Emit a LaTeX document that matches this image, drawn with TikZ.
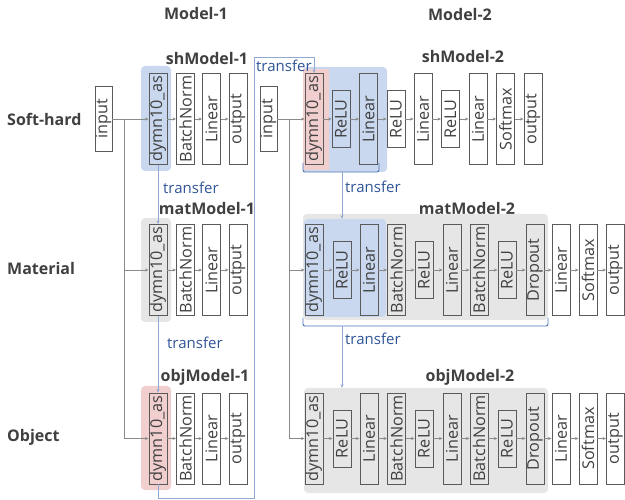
\documentclass[tikz,border=0pt]{standalone}
\usepackage{fontspec}
\setmainfont{Open Sans}
\usetikzlibrary{arrows.meta}
\definecolor{txtgray}{HTML}{404040}
\definecolor{boxgray}{HTML}{5A5A5A}
\definecolor{linegray}{HTML}{8A8A8A}
\definecolor{trblue}{HTML}{2F5597}
\definecolor{trline}{HTML}{4A72B8}
\definecolor{trthin}{HTML}{8FA9D4}
\definecolor{hlblue}{HTML}{C9D8EE}
\definecolor{hlpink}{HTML}{F2CFCF}
\definecolor{hlgray}{HTML}{E6E6E6}
\newcommand{\vlabel}[1]{\rotatebox{90}{#1}}

\begin{document}
\begin{tikzpicture}[x=1pt, y=-1pt, >={Stealth[length=3.5pt,width=3pt]},
    layer/.style={draw=boxgray, line width=0.9pt, inner sep=0pt, minimum width=18pt,
      minimum height=91pt, text=txtgray, font=\fontsize{16.2}{18}\selectfont},
    short/.style={layer, minimum height=57pt},
    inbox/.style={layer, minimum width=17pt, minimum height=65pt},
    hl/.style={rounded corners=4pt, inner sep=0pt},
    title/.style={text=txtgray, font=\bfseries\fontsize{16}{18}\selectfont},
    flow/.style={->, draw=linegray, line width=0.6pt},
    tr/.style={draw=trthin, line width=0.7pt},
    trtext/.style={text=trblue, anchor=west, inner sep=0pt, font=\fontsize{15}{17}\selectfont}]
    \useasboundingbox (0,0) rectangle (625,500);

    % Títulos
    \node[title] (t1) at (196,14) {Model-1};
    \node[title] (t2) at (460,15) {Model-2};
    \node[title] (tsh1) at (207,59) {shModel-1};
    \node[title] (tsh2) at (463,57) {shModel-2};
    \node[title] (tmat1) at (207,209) {matModel-1};
    \node[title] (tmat2) at (467,209) {matModel-2};
    \node[title] (tobj1) at (205,377) {objModel-1};
    \node[title] (tobj2) at (470,377) {objModel-2};
    \node[title, anchor=west, inner sep=0pt] (rsh) at (7,119) {Soft-hard};
    \node[title, anchor=west, inner sep=0pt] (rmat) at (7,269) {Material};
    \node[title, anchor=west, inner sep=0pt] (robj) at (7,437) {Object};

    % Zonas resaltadas
    \node[hl, fill=hlblue, minimum width=30pt, minimum height=105pt] (hsh1) at (156,118.5) {};
    \node[hl, fill=hlgray, minimum width=30pt, minimum height=104pt] (hmat1) at (156,270) {};
    \node[hl, fill=hlpink, minimum width=30pt, minimum height=104pt] (hobj1) at (156,438) {};
    \node[hl, fill=hlblue, minimum width=84pt, minimum height=105pt] (hsh2) at (345,119.5) {};
    \node[fill=hlpink, inner sep=0pt, minimum width=26pt, minimum height=101pt] (hsh2p) at (316,119.5) {};
    \node[hl, fill=hlgray, minimum width=245pt, minimum height=106pt] (hmat2) at (425.5,267) {};
    \node[hl, fill=hlblue, minimum width=82pt, minimum height=98pt] (hmat2b) at (345,268) {};
    \node[hl, fill=hlgray, minimum width=244pt, minimum height=105pt] (hobj2) at (426,440.5) {};

    % Capas Model-1
    \node[inbox] (in1) at (103.5,119) {\vlabel{input}};
    \node[layer] (sh1a) at (158,119) {\vlabel{dymn10\_as}};
    \node[layer] (sh1b) at (185.5,119) {\vlabel{BatchNorm}};
    \node[layer] (sh1c) at (211.5,119) {\vlabel{Linear}};
    \node[layer] (sh1d) at (238,119) {\vlabel{output}};

    \node[layer] (mat1a) at (158,270) {\vlabel{dymn10\_as}};
    \node[layer] (mat1b) at (185.5,270) {\vlabel{BatchNorm}};
    \node[layer] (mat1c) at (211.5,270) {\vlabel{Linear}};
    \node[layer] (mat1d) at (238,270) {\vlabel{output}};

    \node[layer] (obj1a) at (158,438.5) {\vlabel{dymn10\_as}};
    \node[layer] (obj1b) at (185.5,438.5) {\vlabel{BatchNorm}};
    \node[layer] (obj1c) at (211.5,438.5) {\vlabel{Linear}};
    \node[layer] (obj1d) at (238,438.5) {\vlabel{output}};

    % Capas Model-2
    \node[inbox] (in2) at (268.5,119) {\vlabel{input}};
    \node[layer] (sh2a) at (314,119) {\vlabel{dymn10\_as}};
    \node[short] (sh2b) at (341,119) {\vlabel{ReLU}};
    \node[layer] (sh2c) at (368.5,119) {\vlabel{Linear}};
    \node[short] (sh2d) at (396,119) {\vlabel{ReLU}};
    \node[layer] (sh2e) at (423,119) {\vlabel{Linear}};
    \node[short] (sh2f) at (450.5,119) {\vlabel{ReLU}};
    \node[layer] (sh2g) at (478,119) {\vlabel{Linear}};
    \node[layer] (sh2h) at (505.5,119) {\vlabel{Softmax}};
    \node[layer] (sh2i) at (533,119) {\vlabel{output}};

    \node[layer] (mat2a) at (314,270) {\vlabel{dymn10\_as}};
    \node[short] (mat2b) at (342,270) {\vlabel{ReLU}};
    \node[layer] (mat2c) at (369,270) {\vlabel{Linear}};
    \node[layer] (mat2d) at (396.5,270) {\vlabel{BatchNorm}};
    \node[short] (mat2e) at (424,270) {\vlabel{ReLU}};
    \node[layer] (mat2f) at (452,270) {\vlabel{Linear}};
    \node[layer] (mat2g) at (479,270) {\vlabel{BatchNorm}};
    \node[short] (mat2h) at (507,270) {\vlabel{ReLU}};
    \node[layer] (mat2i) at (535,270) {\vlabel{Dropout}};
    \node[layer] (mat2j) at (561,270) {\vlabel{Linear}};
    \node[layer] (mat2k) at (588,270) {\vlabel{Softmax}};
    \node[layer] (mat2l) at (615.5,270) {\vlabel{output}};

    \node[layer] (obj2a) at (314,438.5) {\vlabel{dymn10\_as}};
    \node[short] (obj2b) at (342,438.5) {\vlabel{ReLU}};
    \node[layer] (obj2c) at (369,438.5) {\vlabel{Linear}};
    \node[layer] (obj2d) at (396.5,438.5) {\vlabel{BatchNorm}};
    \node[short] (obj2e) at (424,438.5) {\vlabel{ReLU}};
    \node[layer] (obj2f) at (452,438.5) {\vlabel{Linear}};
    \node[layer] (obj2g) at (479,438.5) {\vlabel{BatchNorm}};
    \node[short] (obj2h) at (507,438.5) {\vlabel{ReLU}};
    \node[layer] (obj2i) at (535,438.5) {\vlabel{Dropout}};
    \node[layer] (obj2j) at (561,438.5) {\vlabel{Linear}};
    \node[layer] (obj2k) at (588,438.5) {\vlabel{Softmax}};
    \node[layer] (obj2l) at (615.5,438.5) {\vlabel{output}};

    % Conexiones entre capas
    \foreach \r in {sh1,mat1,obj1}
      \foreach \u/\v in {a/b,b/c,c/d}
        \draw[flow] (\r\u.east) -- (\r\v.west);
    \foreach \u/\v in {a/b,b/c,c/d,d/e,e/f,f/g,g/h,h/i}
      \draw[flow] (sh2\u.east) -- (sh2\v.west);
    \foreach \r in {mat2,obj2}
      \foreach \u/\v in {a/b,b/c,c/d,d/e,e/f,f/g,g/h,h/i,i/j,j/k,k/l}
        \draw[flow] (\r\u.east) -- (\r\v.west);

    % Entradas
    \coordinate (s1) at (124,119);
    \coordinate (s2) at (289,119);
    \draw[flow] (in1.east) -- (sh1a.west);
    \draw[flow] (s1) |- (mat1a.west);
    \draw[flow] (s1) |- (obj1a.west);
    \draw[flow] (in2.east) -- (sh2a.west);
    \draw[flow] (s2) |- (mat2a.west);
    \draw[flow] (s2) |- (obj2a.west);

    % Transferencias
    \draw[tr, ->] (sh1a.south) -- (mat1a.north);
    \node[trtext] (tr1) at (163,188) {transfer};
    \draw[tr, ->] (mat1a.south) -- (obj1a.north);
    \node[trtext] (tr2) at (167,343) {transfer};
    \coordinate (ca) at (254,498);
    \coordinate (cb) at (314,57);
    \draw[tr, ->] (obj1a.south) |- (ca) |- (cb) -- (sh2a.north);
    \node[trtext] (tr3) at (256,66) {transfer};

    \draw[draw=trline, line width=0.9pt, rounded corners=2pt] (303,163) -- (303,172) -- (379,172) -- (379,163);
    \coordinate (b1) at (342,172);
    \draw[tr, ->] (b1) -- (b1 |- hmat2b.north);
    \node[trtext] (tr4) at (345,187) {transfer};

    \draw[draw=trline, line width=0.9pt, rounded corners=2pt] (303,318) -- (303,326) -- (548,326) -- (548,318);
    \coordinate (b2) at (342,326);
    \draw[tr, ->] (b2) -- (b2 |- hobj2.north);
    \node[trtext] (tr5) at (345,339) {transfer};
\end{tikzpicture}
\end{document}
